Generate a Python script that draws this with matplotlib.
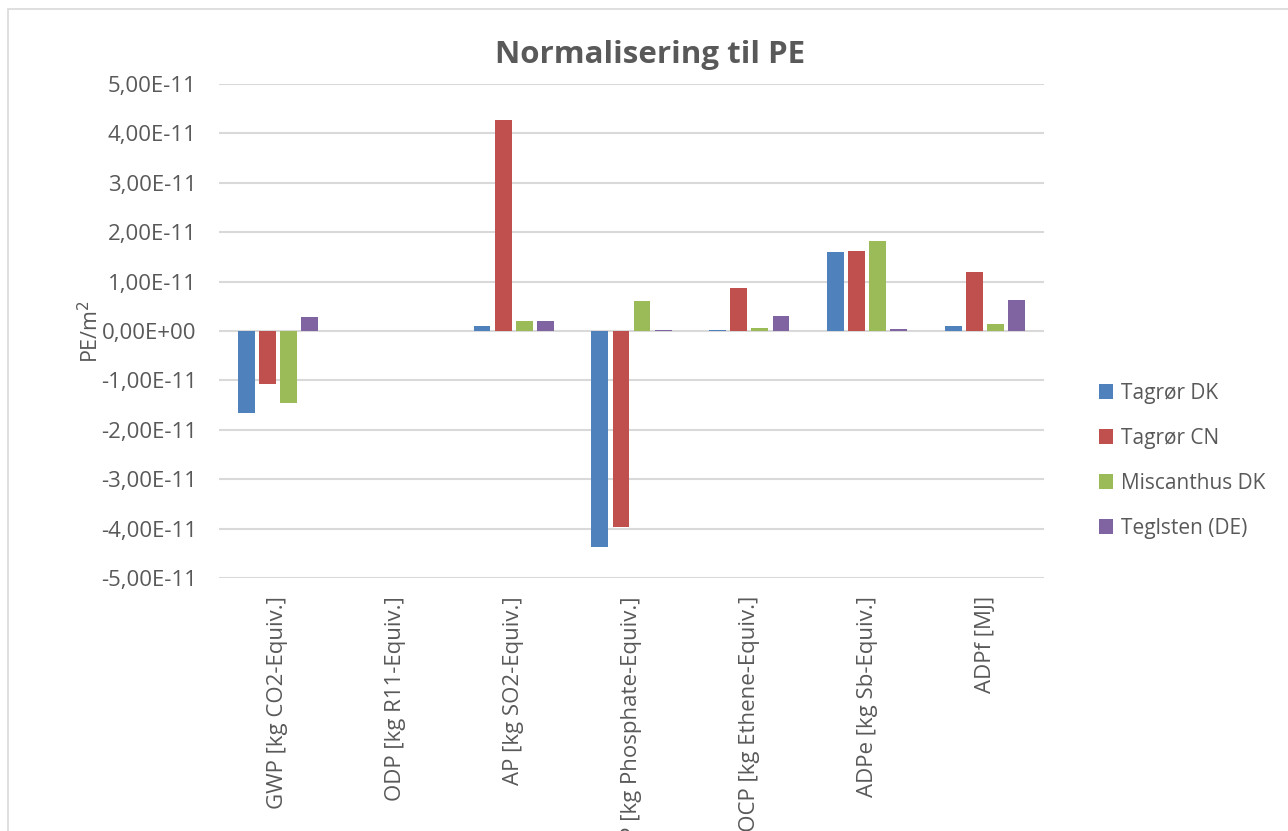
import matplotlib
matplotlib.use("Agg")
import matplotlib.pyplot as plt
import numpy as np
from matplotlib.patches import Rectangle
from matplotlib.ticker import FuncFormatter

categories = ["GWP [kg CO2-Equiv.]", "ODP [kg R11-Equiv.]", "AP [kg SO2-Equiv.]",
              "EP [kg Phosphate-Equiv.]", "POCP [kg Ethene-Equiv.]",
              "ADPe [kg Sb-Equiv.]", "ADPf [MJ]"]
series_names = ["Tagrør DK", "Tagrør CN", "Miscanthus DK", "Teglsten (DE)"]
tagror_dk = [-1.65e-11, 0.0, 0.10e-11, -4.38e-11, 0.03e-11, 1.60e-11, 0.10e-11]
tagror_cn = [-1.07e-11, 0.0, 4.27e-11, -3.96e-11, 0.87e-11, 1.62e-11, 1.20e-11]
miscanthus_dk = [-1.46e-11, 0.0, 0.20e-11, 0.61e-11, 0.06e-11, 1.83e-11, 0.15e-11]
teglsten_de = [0.28e-11, 0.0, 0.20e-11, 0.02e-11, 0.30e-11, 0.04e-11, 0.63e-11]
colors = ["#4F81BD", "#C0504D", "#9BBB59", "#8064A2"]
yticks = np.arange(-5e-11, 5.01e-11, 1e-11)

plt.rcParams['font.family'] = ['Open Sans', 'DejaVu Sans']

fig = plt.figure(figsize=(12.88, 8.31), dpi=100)
fig.patches.append(Rectangle((8/1288, -0.1), 1.1, 1 - 9/831 + 0.1, transform=fig.transFigure,
                             fill=False, edgecolor="#d9d9d9", linewidth=1.2))
ax = fig.add_axes([219/1288, 1 - 578/831, (1044 - 219)/1288, (578 - 84)/831])

x = np.arange(len(categories))
step = 0.179
bw = 0.143
data = [tagror_dk, tagror_cn, miscanthus_dk, teglsten_de]
for i, (vals, name, c) in enumerate(zip(data, series_names, colors)):
    ax.bar(x + (i - 1.5) * step, vals, width=bw, color=c, linewidth=0,
           label=name, zorder=3)

ax.set_xlim(-0.5, len(categories) - 0.5)
ax.set_ylim(-5e-11, 5e-11)
ax.set_yticks(yticks)
ax.yaxis.set_major_formatter(FuncFormatter(
    lambda v, p: "0,00E+00" if abs(v) < 1e-15 else ("%.2E" % v).replace(".", ",")))
ax.grid(axis="y", color="#d9d9d9", linewidth=1.5, zorder=0)
for s in ax.spines.values():
    s.set_visible(False)
ax.tick_params(axis="both", length=0, labelsize=16, colors="#595959")
ax.tick_params(axis="y", pad=16)
ax.set_xticks(x)
ax.set_xticklabels(categories, rotation=90, va="top", ha="center")
ax.tick_params(axis="x", pad=13)
ax.set_ylabel("PE/m$^2$", fontsize=15.5, color="#595959", labelpad=-2)

fig.text(650/1288, 1 - 55/831, "Normalisering til PE", ha="center", va="center",
         fontsize=22.5, fontweight="bold", color="#595959")

leg = ax.legend(loc="center left", bbox_to_anchor=(1080/1288, 1 - 461/831),
                bbox_transform=fig.transFigure, frameon=False, fontsize=15,
                handlelength=0.7, handleheight=0.7, handletextpad=0.35, labelspacing=1.15)
for t in leg.get_texts():
    t.set_color("#595959")

fig.savefig("out.png", dpi=100)
